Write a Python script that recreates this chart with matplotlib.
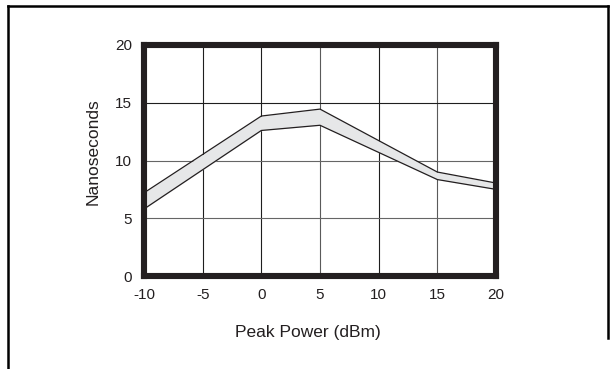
import matplotlib
matplotlib.use("Agg")
import matplotlib.pyplot as plt
from matplotlib.lines import Line2D

# Data
power_dbm = [-10, 0, 5, 15, 20]
upper_ns = [7.2, 13.85, 14.45, 9.0, 8.05]
lower_ns = [5.8, 12.6, 13.05, 8.35, 7.5]
x_ticks = [-10, -5, 0, 5, 10, 15, 20]
y_ticks = [0, 5, 10, 15, 20]

plt.rcParams['font.family'] = ['Liberation Sans', 'DejaVu Sans']

W, H = 612, 369
fig = plt.figure(figsize=(W / 100, H / 100), dpi=100)
ax = fig.add_axes([144 / W, 1 - 276 / H, (496 - 144) / W, (276 - 45) / H])

ax.set_xlim(-10, 20)
ax.set_ylim(0, 20)

# grid lines
dark_x = {-5, 0, 10}
for xv in x_ticks[1:-1]:
    ax.axvline(xv, color='#1e1e1e' if xv in dark_x else '#5a5a5a', lw=0.8, zorder=1)
for yv in y_ticks[1:-1]:
    ax.axhline(yv, color='#1e1e1e' if yv == 15 else '#666666', lw=0.8, zorder=1)

ax.fill_between(power_dbm, lower_ns, upper_ns, color='#e6e7e8', zorder=2, lw=0)
ax.plot(power_dbm, upper_ns, color='#231f20', lw=0.9, zorder=3)
ax.plot(power_dbm, lower_ns, color='#231f20', lw=0.9, zorder=3)

for s in ax.spines.values():
    s.set_linewidth(4.4)
    s.set_color('#231f20')
    s.set_zorder(5)

ax.set_xticks(x_ticks)
ax.set_yticks(y_ticks)
ax.set_xticklabels([str(v) for v in x_ticks])
ax.set_yticklabels([str(v) for v in y_ticks])
ax.tick_params(length=0, labelsize=11, colors='#231f20', pad=8.5)

ax.set_xlabel('Peak Power (dBm)', fontsize=12.5, color='#231f20', va='center', ha='center')
ax.xaxis.set_label_coords((308 - 144) / 352, (276 - 332) / 231)
ax.set_ylabel('Nanoseconds', fontsize=12.5, color='#231f20', va='center', ha='center')
ax.yaxis.set_label_coords((93 - 144) / 352, (276 - 152) / 231)

# outer frame (top, left, right partial)
def fx(px):
    return px / W

def fy(py):
    return 1 - py / H

fig.add_artist(Line2D([fx(8), fx(608)], [fy(6), fy(6)], color='black', lw=1.8))
fig.add_artist(Line2D([fx(8), fx(8)], [fy(6), fy(369)], color='black', lw=1.8))
fig.add_artist(Line2D([fx(608), fx(608)], [fy(6), fy(338)], color='black', lw=1.8))

fig.savefig('out.png', dpi=100)
